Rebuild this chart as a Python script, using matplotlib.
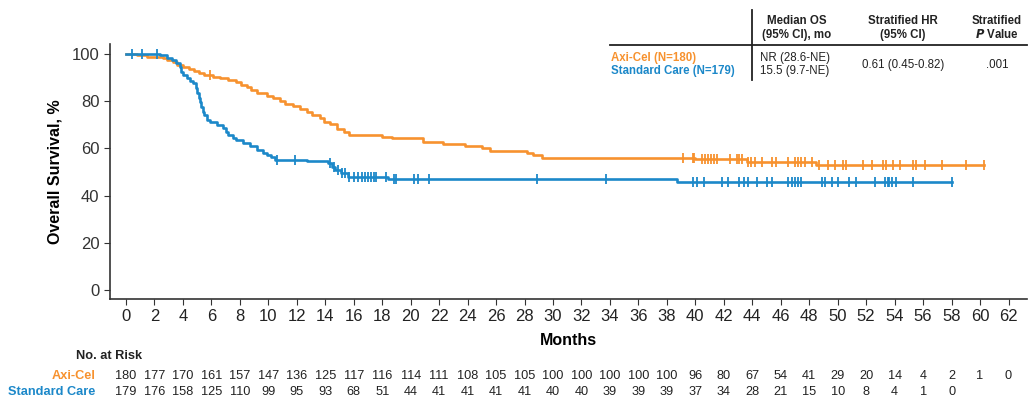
import numpy as np
import matplotlib
matplotlib.use("Agg")
import matplotlib.pyplot as plt
import matplotlib.transforms as mtransforms

plt.rcParams["font.family"] = ["Liberation Sans", "DejaVu Sans"]

ORANGE = "#F7922F"
BLUE = "#1C88C9"

# Kaplan-Meier steps: (month, survival % after the step)
axi_times = [0, 0.8, 1.5, 2.6, 2.9, 3.3, 3.6, 4.0, 4.4, 4.8, 5.1, 5.5, 6.1, 6.6, 7.2,
             7.7, 8.1, 8.5, 8.8, 9.2, 9.9, 10.3, 10.8, 11.2, 11.7, 12.2, 12.7, 13.1,
             13.6, 13.9, 14.3, 14.8, 15.3, 15.7, 18.0, 18.7, 20.9, 22.3, 23.8, 25.0,
             25.6, 28.2, 28.6, 29.2, 40.0, 43.6, 48.5]
axi_surv = [100, 99.4, 98.9, 98.3, 97.5, 96.4, 95.3, 94.4, 93.5, 92.6, 91.8, 91.0,
            90.3, 89.6, 88.8, 88.0, 87.0, 85.8, 84.6, 83.4, 82.2, 81.2, 80.1, 79.0,
            77.8, 76.6, 75.3, 74.1, 72.8, 71.0, 70.2, 68.4, 67.0, 65.7, 65.0, 64.3,
            62.8, 61.9, 61.0, 60.2, 59.0, 58.0, 57.0, 56.0, 55.3, 54.3, 53.0]
axi_end = 60.3
axi_censor = [5.9, 39.1, 39.8, 39.9, 40.5, 40.7, 40.9, 41.1, 41.3, 41.5, 42.4, 42.9,
              43.1, 43.3, 43.7, 43.9, 44.2, 44.7, 45.4, 45.7, 46.5, 47.0, 47.2, 47.4,
              47.7, 48.2, 48.7, 49.3, 49.8, 50.4, 50.6, 51.8, 52.4, 53.2, 53.4, 53.9,
              54.4, 55.3, 55.5, 56.1, 57.3, 59.0, 60.3]

std_times = [0, 2.4, 2.9, 3.2, 3.5, 3.8, 3.9, 4.0, 4.3, 4.5, 4.7, 4.9, 5.0, 5.1, 5.2,
             5.3, 5.4, 5.5, 5.7, 5.9, 6.4, 6.8, 7.0, 7.2, 7.5, 7.7, 8.2, 8.7, 9.2,
             9.6, 9.9, 10.2, 10.5, 12.7, 14.2, 14.5, 14.7, 15.1, 15.6, 18.4, 38.7]
std_surv = [100, 99.4, 98.3, 97.4, 96.2, 94.6, 92.5, 91.0, 90.0, 88.7, 87.5, 85.5,
            83.5, 81.5, 79.5, 77.5, 75.5, 74.0, 72.0, 71.0, 70.0, 68.6, 67.0, 65.7,
            64.6, 63.6, 62.3, 60.9, 59.4, 58.1, 57.2, 56.2, 55.2, 54.5, 53.6, 52.0,
            50.8, 49.6, 48.0, 46.9, 45.6]
std_end = 58.0
std_censor = [0.4, 1.1, 2.2, 10.6, 11.9, 14.3, 14.6, 14.9, 15.2, 15.4, 15.7, 16.0,
              16.3, 16.6, 16.8, 17.0, 17.2, 17.4, 17.6, 18.3, 18.8, 19.0, 20.2, 20.5,
              21.3, 28.9, 33.7, 39.8, 40.1, 40.6, 41.9, 42.3, 43.1, 43.4, 43.7, 44.3,
              45.0, 45.4, 46.5, 46.8, 47.0, 47.2, 47.4, 48.9, 49.1, 49.6, 50.0, 50.8,
              51.3, 52.6, 53.3, 53.5, 53.6, 53.8, 54.1, 55.3, 58.0]

risk_axi = [180, 177, 170, 161, 157, 147, 136, 125, 117, 116, 114, 111, 108, 105, 105,
            100, 100, 100, 100, 100, 96, 80, 67, 54, 41, 29, 20, 14, 4, 2, 1, 0]
risk_std = [179, 176, 158, 125, 110, 99, 95, 93, 68, 51, 44, 41, 41, 41, 41, 40, 40,
            39, 39, 39, 37, 34, 28, 21, 15, 10, 8, 4, 1, 0]
x_ticks = list(range(0, 63, 2))
y_ticks = [0, 20, 40, 60, 80, 100]


def step_value(times, surv, t):
    idx = np.searchsorted(times, t, side="right") - 1
    return np.asarray(surv)[idx]


fig = plt.figure(figsize=(10.35, 3.99), dpi=100)
ax = fig.add_axes([0.1063, 0.2506, 0.886, 0.6391])

for times, surv, end, cens, color in [
    (axi_times, axi_surv, axi_end, axi_censor, ORANGE),
    (std_times, std_surv, std_end, std_censor, BLUE),
]:
    t = list(times) + [end]
    s = list(surv) + [surv[-1]]
    ax.step(t, s, where="post", color=color, linewidth=1.9, zorder=3)
    ax.plot(cens, step_value(times, surv, cens), linestyle="none", marker="|",
            markersize=7, markeredgewidth=1.3, color=color, zorder=4)

ax.set_xlim(-1.12, 63.3)
ax.set_ylim(-3.8, 104.2)
ax.set_xticks(x_ticks)
ax.set_yticks(y_ticks)
ax.tick_params(labelsize=12, colors="#333333", length=4, direction="out")
ax.tick_params(axis="x", labelcolor="#222222", pad=3)
for side in ["top", "right"]:
    ax.spines[side].set_visible(False)
for side in ["left", "bottom"]:
    ax.spines[side].set_color("#333333")
    ax.spines[side].set_linewidth(1.2)
ax.set_xlabel("Months", fontsize=11.5, fontweight="bold", labelpad=7)
ax.set_ylabel("Overall Survival, %", fontsize=11.5, fontweight="bold", labelpad=7)

# number at risk table
rs = 9.2
trans = mtransforms.blended_transform_factory(ax.transData, fig.transFigure)
fig.text(0.0734, 0.107, "No. at Risk", fontsize=rs, fontweight="bold", va="center",
         ha="left", color="#222222")
fig.text(0.092, 0.058, "Axi-Cel", fontsize=rs, fontweight="bold", va="center",
         ha="right", color=ORANGE)
fig.text(0.092, 0.017, "Standard Care", fontsize=rs, fontweight="bold", va="center",
         ha="right", color=BLUE)
for i, n in enumerate(risk_axi):
    ax.text(x_ticks[i], 0.058, str(n), transform=trans, fontsize=rs, ha="center",
            va="center", color="#222222")
for i, n in enumerate(risk_std):
    ax.text(x_ticks[i], 0.017, str(n), transform=trans, fontsize=rs, ha="center",
            va="center", color="#222222")

# summary table in upper right
fs = 8.3
fig.add_artist(plt.Line2D([752 / 1035, 752 / 1035], [1 - 10 / 399, 1 - 80 / 399],
                          color="#222222", linewidth=1.3))
fig.add_artist(plt.Line2D([610 / 1035, 1027 / 1035], [1 - 45 / 399, 1 - 45 / 399],
                          color="#222222", linewidth=1.3))
fig.text(797 / 1035, 1 - 21 / 399, "Median OS", fontsize=fs, fontweight="bold",
         ha="center", va="center", color="#222222")
fig.text(797 / 1035, 1 - 35 / 399, "(95% CI), mo", fontsize=fs, fontweight="bold",
         ha="center", va="center", color="#222222")
fig.text(903 / 1035, 1 - 21 / 399, "Stratified HR", fontsize=fs, fontweight="bold",
         ha="center", va="center", color="#222222")
fig.text(903 / 1035, 1 - 35 / 399, "(95% CI)", fontsize=fs, fontweight="bold",
         ha="center", va="center", color="#222222")
fig.text(997 / 1035, 1 - 21 / 399, "Stratified", fontsize=fs, fontweight="bold",
         ha="center", va="center", color="#222222")
fig.text(997 / 1035, 1 - 35 / 399, r"$\bfit{P}$ Value", fontsize=fs, fontweight="bold",
         ha="center", va="center", color="#222222")
fig.text(611 / 1035, 1 - 58 / 399, "Axi-Cel (N=180)", fontsize=fs, fontweight="bold",
         ha="left", va="center", color=ORANGE)
fig.text(611 / 1035, 1 - 71 / 399, "Standard Care (N=179)", fontsize=fs,
         fontweight="bold", ha="left", va="center", color=BLUE)
fig.text(760 / 1035, 1 - 58 / 399, "NR (28.6-NE)", fontsize=fs, ha="left",
         va="center", color="#222222")
fig.text(760 / 1035, 1 - 71 / 399, "15.5 (9.7-NE)", fontsize=fs, ha="left",
         va="center", color="#222222")
fig.text(903 / 1035, 1 - 65 / 399, "0.61 (0.45-0.82)", fontsize=fs, ha="center",
         va="center", color="#222222")
fig.text(997 / 1035, 1 - 65 / 399, ".001", fontsize=fs, ha="center", va="center",
         color="#222222")

fig.savefig("out.png", dpi=100)
